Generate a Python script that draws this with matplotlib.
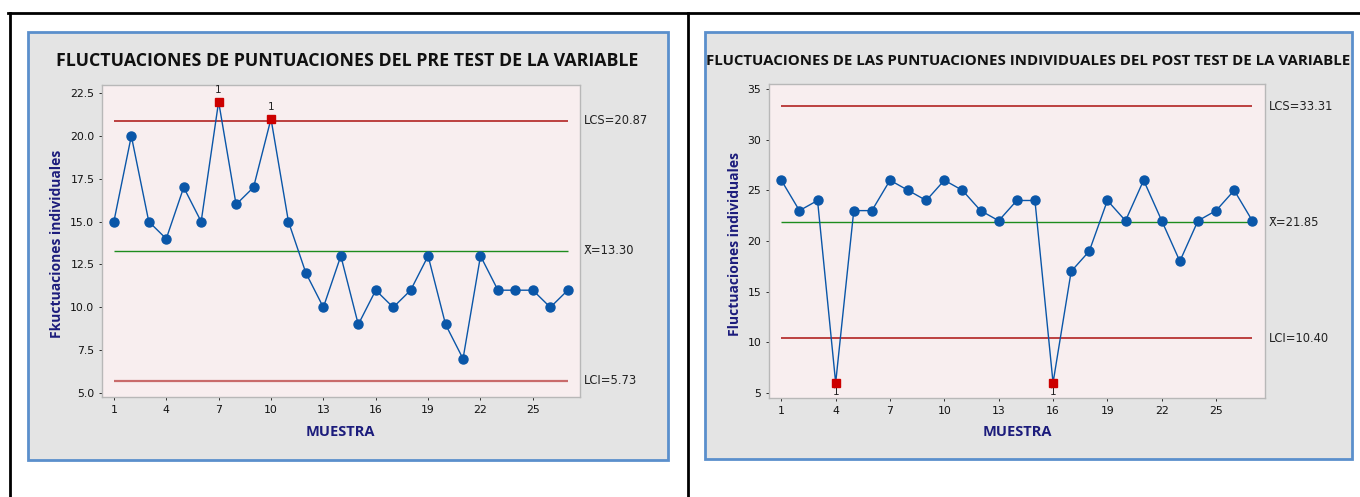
import matplotlib
matplotlib.use("Agg")
import matplotlib.pyplot as plt
from matplotlib.patches import Rectangle
from matplotlib.lines import Line2D

# ---- data ----
pre_values = [15, 20, 15, 14, 17, 15, 22, 16, 17, 21, 15, 12, 10, 13, 9, 11, 10, 11, 13, 9, 7, 13, 11, 11, 11, 10, 11]
post_values = [26, 23, 24, 6, 23, 23, 26, 25, 24, 26, 25, 23, 22, 24, 24, 6, 17, 19, 24, 22, 26, 22, 18, 22, 23, 25, 22]
pre_limits = {"LCS": 20.87, "mean": 13.30, "LCI": 5.73}
post_limits = {"LCS": 33.31, "mean": 21.85, "LCI": 10.40}
pre_yticks = [5.0, 7.5, 10.0, 12.5, 15.0, 17.5, 20.0, 22.5]
post_yticks = [5, 10, 15, 20, 25, 30, 35]
xticks = [1, 4, 7, 10, 13, 16, 19, 22, 25]
pre_title = "FLUCTUACIONES DE PUNTUACIONES DEL PRE TEST DE LA VARIABLE"
post_title = "FLUCTUACIONES DE LAS PUNTUACIONES INDIVIDUALES DEL POST TEST DE LA VARIABLE"
pre_ylabel = "Fkuctuaciones individuales"
post_ylabel = "Fluctuaciones individuales"
xlabel = "MUESTRA"

W, H = 1360, 497
fig = plt.figure(figsize=(W / 100, H / 100), dpi=100)
fig.patch.set_facecolor("white")

def fx(x):
    return x / W

def fy(y):
    return 1 - y / H

def box(x0, y0, x1, y1, **kw):
    fig.patches.append(Rectangle((fx(x0), fy(y1)), fx(x1) - fx(x0), fy(y0) - fy(y1),
                                 transform=fig.transFigure, **kw))

# table lines
for (xa, ya, xb, yb) in [(8, 13, 1360, 13), (10, 13, 10, 497), (688, 13, 688, 497)]:
    fig.add_artist(Line2D([fx(xa), fx(xb)], [fy(ya), fy(yb)], color="black", lw=2,
                          transform=fig.transFigure))

NAVY = "#1C1C7C"
BLUE = "#0A56A8"
RED = "#CC0000"

def panel(box_px, ax_px, values, limits, yticks, ylim, title, title_xy, title_fs,
          ylabel, ylabel_x, xl_xy, flags_above, label_x):
    box(*box_px, facecolor="#E4E4E4", edgecolor="#5B8FCC", lw=2, zorder=-5)
    x0, y0, x1, y1 = ax_px
    ax = fig.add_axes([fx(x0), fy(y1), fx(x1) - fx(x0), fy(y0) - fy(y1)])
    ax.set_facecolor("#F8EEEF")
    for s in ax.spines.values():
        s.set_color("#B8B8B8")
        s.set_linewidth(1)
    n = len(values)
    xs = list(range(1, n + 1))
    ax.hlines(limits["LCS"], 1, n, color="#B22222", lw=1.2, zorder=2)
    ax.hlines(limits["mean"], 1, n, color="#1E8C1E", lw=1.0, zorder=2)
    lci_col = "#C96B6B" if flags_above else "#B22222"
    ax.hlines(limits["LCI"], 1, n, color=lci_col, lw=1.6 if flags_above else 1.2, zorder=2)
    ax.plot(xs, values, color=BLUE, lw=1, zorder=3)
    normal = [(x, v) for x, v in zip(xs, values) if limits["LCI"] <= v <= limits["LCS"]]
    out = [(x, v) for x, v in zip(xs, values) if not (limits["LCI"] <= v <= limits["LCS"])]
    ax.plot([p[0] for p in normal], [p[1] for p in normal], "o", color=BLUE, ms=6.5, zorder=4)
    ax.plot([p[0] for p in out], [p[1] for p in out], "s", color=RED, ms=6, zorder=5)
    for x, v in out:
        if flags_above:
            ax.annotate("1", (x, v), xytext=(0, 5), textcoords="offset points",
                        ha="center", va="bottom", fontsize=7.5, color="#222222")
        else:
            ax.annotate("1", (x, v), xytext=(0, -3), textcoords="offset points",
                        ha="center", va="top", fontsize=7.5, color="#222222")
    ax.set_xlim(0.32, 27.7)
    ax.set_ylim(*ylim)
    ax.set_xticks(xticks)
    ax.set_yticks(yticks)
    if isinstance(yticks[0], float):
        ax.set_yticklabels([f"{t:.1f}" for t in yticks])
    ax.tick_params(labelsize=7.8, colors="#111111", length=2, width=0.6)
    for t in ax.get_xticklines() + ax.get_yticklines():
        t.set_color("#999999")
    tr = ax.get_yaxis_transform()
    ax.text(label_x, limits["LCS"], f"LCS={limits['LCS']:.2f}", transform=tr,
            va="center", ha="left", fontsize=8.3, color="#222222")
    ax.text(label_x, limits["mean"], f"X\u0304={limits['mean']:.2f}", transform=tr,
            va="center", ha="left", fontsize=8.3, color="#222222")
    ax.text(label_x, limits["LCI"], f"LCI={limits['LCI']:.2f}", transform=tr,
            va="center", ha="left", fontsize=8.3, color="#222222")
    fig.text(fx(title_xy[0]), fy(title_xy[1]), title, ha="center", va="center",
             fontsize=title_fs, fontweight="bold", color="#111111", family="Open Sans")
    fig.text(fx(ylabel_x), fy((y0 + y1) / 2 + 3), ylabel, rotation=90, ha="center", va="center",
             fontsize=10, fontweight="bold", color=NAVY, family="Open Sans")
    fig.text(fx(xl_xy[0]), fy(xl_xy[1]), xlabel, ha="center", va="center",
             fontsize=10.5, fontweight="bold", color=NAVY, family="Open Sans")
    return ax

panel((28, 32, 668, 460), (102, 85, 580, 397), pre_values, pre_limits, pre_yticks,
      (4.77, 22.97), pre_title, (347, 61), 12.8, pre_ylabel, 57, (340, 432), True, 1.008)
panel((705, 32, 1352, 459), (769, 84, 1265, 398), post_values, post_limits, post_yticks,
      (4.5, 35.5), post_title, (1028, 61), 10.8, post_ylabel, 735, (1017, 432), False, 1.008)

fig.savefig("out.png", dpi=100)
